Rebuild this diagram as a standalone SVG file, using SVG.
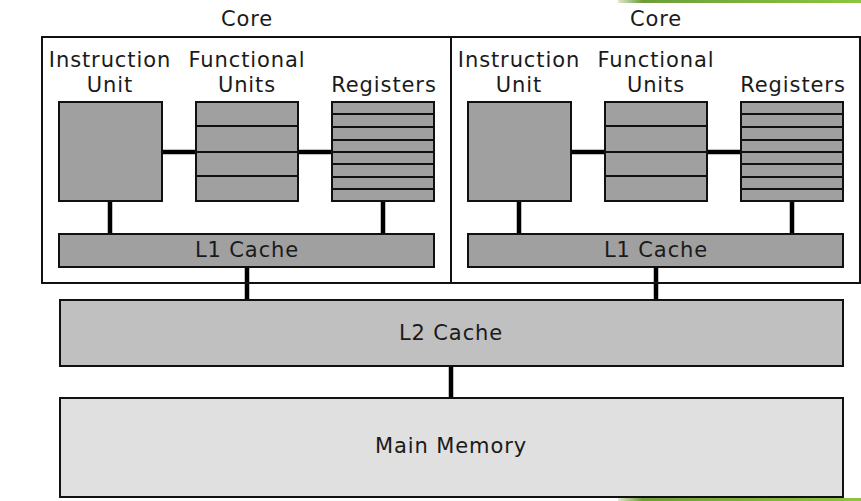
<svg xmlns="http://www.w3.org/2000/svg" width="861" height="501" viewBox="0 0 861 501">
<style>
text{font-family:"DejaVu Sans","Liberation Sans",sans-serif;font-size:21px;letter-spacing:0.9px;fill:#1a1a1a;text-anchor:middle}
.box{stroke:#111;stroke-width:2}
.unit{fill:#a0a0a0}
.div{stroke:#111;stroke-width:2}
.core{fill:none;stroke:#111;stroke-width:2}
.wire{stroke:#000;stroke-width:4.5;fill:none}
</style>
<defs>
<linearGradient id="g1" x1="0" x2="1"><stop offset="0" stop-color="#dfe9cf"/><stop offset="0.1" stop-color="#6d9e3a"/><stop offset="1" stop-color="#8cc63f"/></linearGradient>
<g id="coreContent">
<text x="110" y="67">Instruction</text>
<text x="110" y="92">Unit</text>
<text x="247" y="67">Functional</text>
<text x="247" y="92">Units</text>
<text x="384" y="92">Registers</text>
<rect class="box unit" x="59" y="102" width="103" height="99"/>
<rect class="box unit" x="196" y="102" width="102" height="99"/>
<path class="div" d="M196 126H298M196 152H298M196 176H298"/>
<rect class="box unit" x="332" y="102" width="102" height="99"/>
<path class="div" d="M332 114H434M332 127H434M332 140H434M332 152H434M332 164H434M332 177H434M332 189H434"/>
<rect class="box unit" x="59" y="234" width="375" height="33"/>
<text x="247" y="257">L1 Cache</text>
</g>
</defs>
<rect x="618" y="0" width="243" height="3" fill="url(#g1)"/>
<rect x="618" y="498" width="243" height="3" fill="url(#g1)"/>
<g id="connectors">
<path class="wire" d="M162 152H196M298 152H332M110 201V234M383 201V234"/>
<path class="wire" d="M571 152H605M707 152H741M519 201V234M792 201V234"/>
<path class="wire" d="M247 267V300M656 267V300M451 366V398"/>
</g>
<g id="core1">
<text x="247" y="26">Core</text>
<rect class="core" x="42" y="37" width="409" height="246"/>
<use href="#coreContent"/>
</g>
<g id="core2">
<text x="656" y="26">Core</text>
<rect class="core" x="451" y="37" width="409" height="246"/>
<use href="#coreContent" x="409"/>
</g>
<g id="l2">
<rect class="box" x="60" y="300" width="783" height="66" fill="#c0c0c0"/>
<text x="451" y="340">L2 Cache</text>
</g>
<g id="memory">
<rect class="box" x="60" y="398" width="783" height="99" fill="#e0e0e0"/>
<text x="451" y="453">Main Memory</text>
</g>
</svg>
